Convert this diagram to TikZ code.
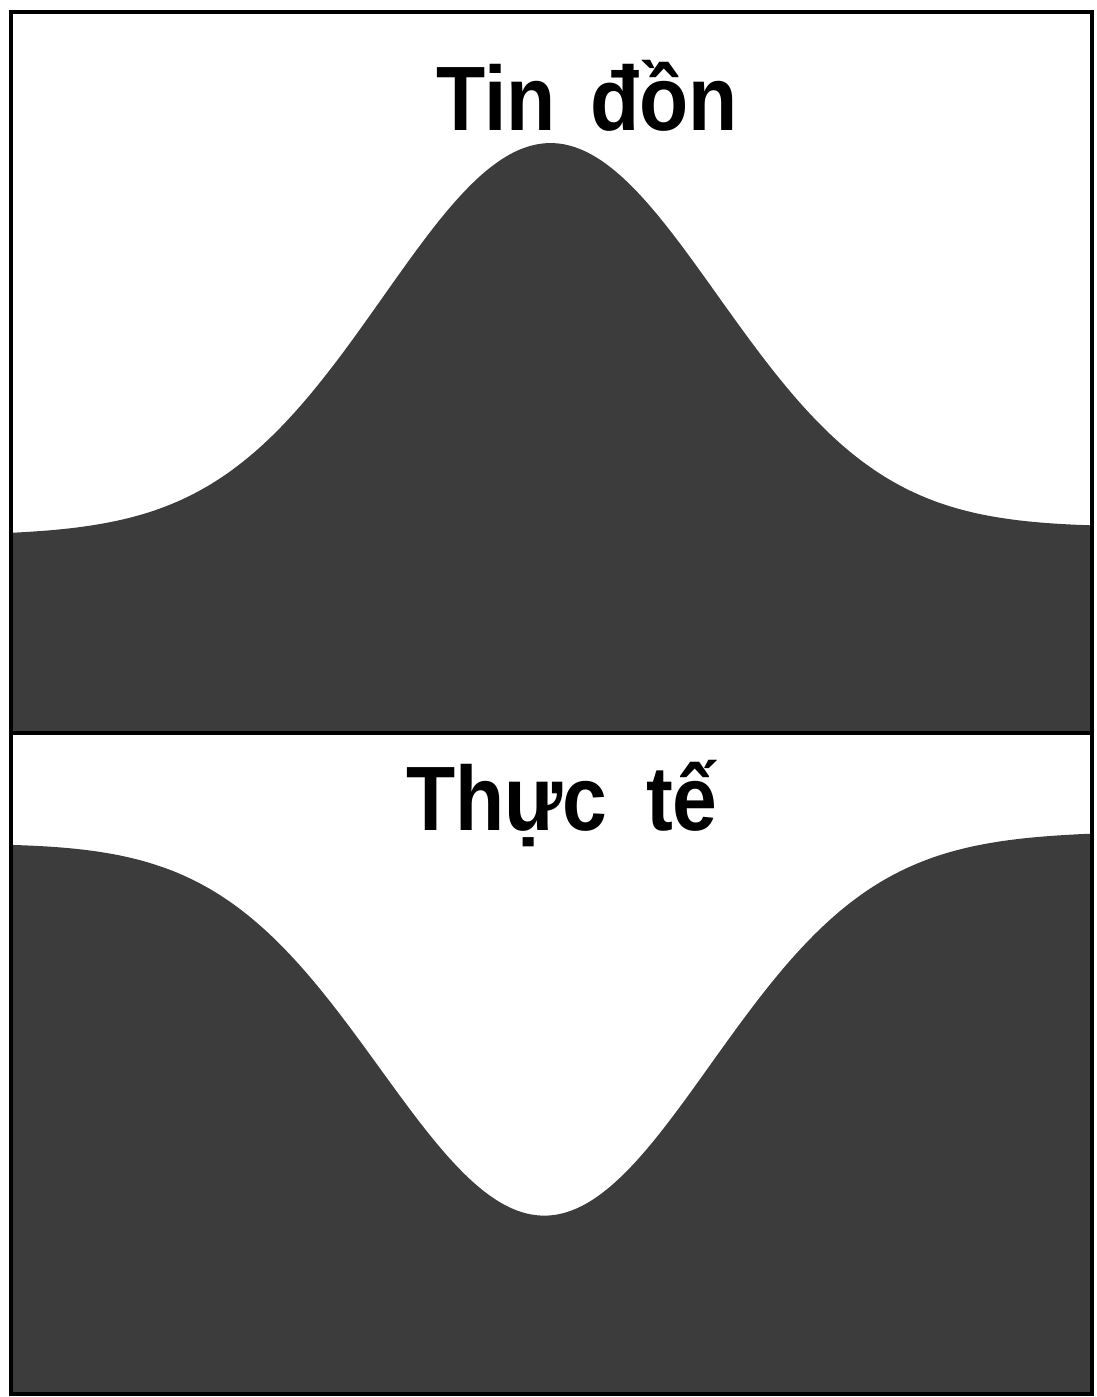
\documentclass[tikz,border=0pt]{standalone}
\usepackage{fontspec}
\setmainfont{Liberation Sans}
\definecolor{hillgray}{HTML}{3C3C3C}
\usetikzlibrary{positioning}
\tikzset{
	hill/.style={
			fill=hillgray,
			draw=none
		},
	frameline/.style={
			draw=black,
			line width=1pt
		},
	titlenode/.style={
			font=\fontsize{26}{30}\selectfont\bfseries,
			inner sep=0pt,
			anchor=base,
			xscale=0.88,
			transform shape
		}
}
\begin{document}
\begin{tikzpicture}[x=0.01cm, y=-0.01cm]
\useasboundingbox (0,0) rectangle (1096,1397);

% upper panel: rumour
\fill[hill] (11,733) -- plot[domain=11:1092, samples=120, smooth]
  (\x, {535 - 0.007*\x - 388*exp(-((\x-550)/167)^2/2)}) -- (1092,733) -- cycle;

% lower panel: reality
\fill[hill] (11,1394) -- plot[domain=11:1092, samples=120, smooth]
  (\x, {843 - 0.01*\x + 378*exp(-((\x-545)/165)^2/2)}) -- (1092,1394) -- cycle;

\draw[frameline] (11,12) rectangle (1092,1394);
\draw[frameline] (11,733) -- (1092,733);

\node[titlenode] (rumour) at (587,130) {Tin\hspace{0.15em} đồn};
\node[titlenode] (reality) at (562,830) {Thực\hspace{0.2em} tế};

\end{tikzpicture}
\end{document}
